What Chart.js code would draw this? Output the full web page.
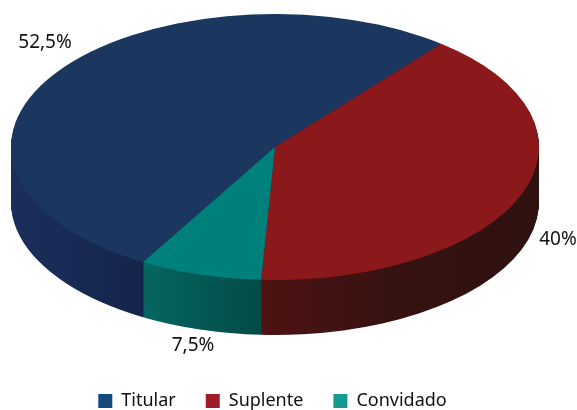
<!DOCTYPE html>
<html>
<head>
<meta charset="utf-8">
<style>html,body{margin:0;padding:0;background:#fff}canvas{display:block}</style>
<script src="https://cdn.jsdelivr.net/npm/chart.js@4"></script>
</head>
<body>
<div style="width:577px;height:410px"><canvas id="c" width="577" height="410"></canvas></div>
<script>
const categories = ['Titular', 'Suplente', 'Convidado'];
const values = [52.5, 40, 7.5];
const topColors = ['#1b365f', '#8b181b', '#00807a'];
const legendColors = ['#174a7c', '#a01c26', '#149a92'];
const wallStart = ['#1b2e5b', '#4e1213', '#066560'];
const wallEnd = ['#14244b', '#2e1110', '#024a47'];

const CX = 275, CY = 147, RX = 264, RY = 133, DEPTH = 55;
const KY = RY / RX;
const labelAnchors = [[45, 43], [558, 240], [193, 346]];
const wallSpans = [[12, 143], [262, 540], [143, 262]];

function place(ctx, arc, dy) {
  ctx.translate(CX, CY + dy);
  ctx.scale(1, KY);
  ctx.translate(-arc.x, -arc.y);
}

const pie3d = {
  id: 'pie3d',
  afterLayout(chart) {
    const lg = chart.legend;
    lg.top += 10; lg.bottom += 10;
  },
  beforeDatasetsDraw(chart) {
    const ctx = chart.ctx;
    const arcs = chart.getDatasetMeta(0).data;
    const fills = arcs.map((a, i) => {
      const g = ctx.createLinearGradient(wallSpans[i][0], 0, wallSpans[i][1], 0);
      if (i === 1) { g.addColorStop(0, wallStart[i]); g.addColorStop(0.5, '#351211'); g.addColorStop(1, wallEnd[i]); }
      else { g.addColorStop(0, wallStart[i]); g.addColorStop(1, wallEnd[i]); }
      return g;
    });
    for (let dy = DEPTH; dy >= 1; dy--) {
      arcs.forEach((arc, i) => {
        const saved = arc.options;
        arc.options = Object.assign({}, saved, { backgroundColor: fills[i], borderWidth: 0 });
        ctx.save();
        place(ctx, arc, dy);
        arc.draw(ctx);
        ctx.restore();
        arc.options = saved;
      });
    }
    ctx.save();
    place(ctx, arcs[0], 0);
  },
  afterDatasetsDraw(chart) {
    const ctx = chart.ctx;
    ctx.restore();
    ctx.save();
    ctx.font = '19px "Noto Sans"';
    ctx.fillStyle = '#111111';
    ctx.textAlign = 'center';
    ctx.textBaseline = 'middle';
    values.forEach((v, i) => {
      ctx.fillText(String(v).replace('.', ',') + '%', labelAnchors[i][0], labelAnchors[i][1]);
    });
    ctx.restore();
  }
};

new Chart(document.getElementById('c'), {
  type: 'pie',
  data: {
    labels: categories,
    datasets: [{
      data: values,
      backgroundColor: topColors,
      borderWidth: 0,
      clip: false
    }]
  },
  options: {
    responsive: false,
    animation: false,
    rotation: 210,
    radius: RX,
    layout: { padding: { right: 32 } },
    plugins: {
      tooltip: { enabled: false },
      legend: {
        position: 'bottom',
        labels: {
          boxWidth: 14,
          boxHeight: 14,
          padding: 30,
          color: '#111111',
          font: { family: '"Noto Sans"', size: 18 },
          generateLabels() {
            return categories.map((t, i) => ({
              text: t, fillStyle: legendColors[i], strokeStyle: legendColors[i],
              lineWidth: 0, index: i, hidden: false, fontColor: '#111111'
            }));
          }
        }
      }
    }
  },
  plugins: [pie3d]
});
</script>
</body>
</html>
